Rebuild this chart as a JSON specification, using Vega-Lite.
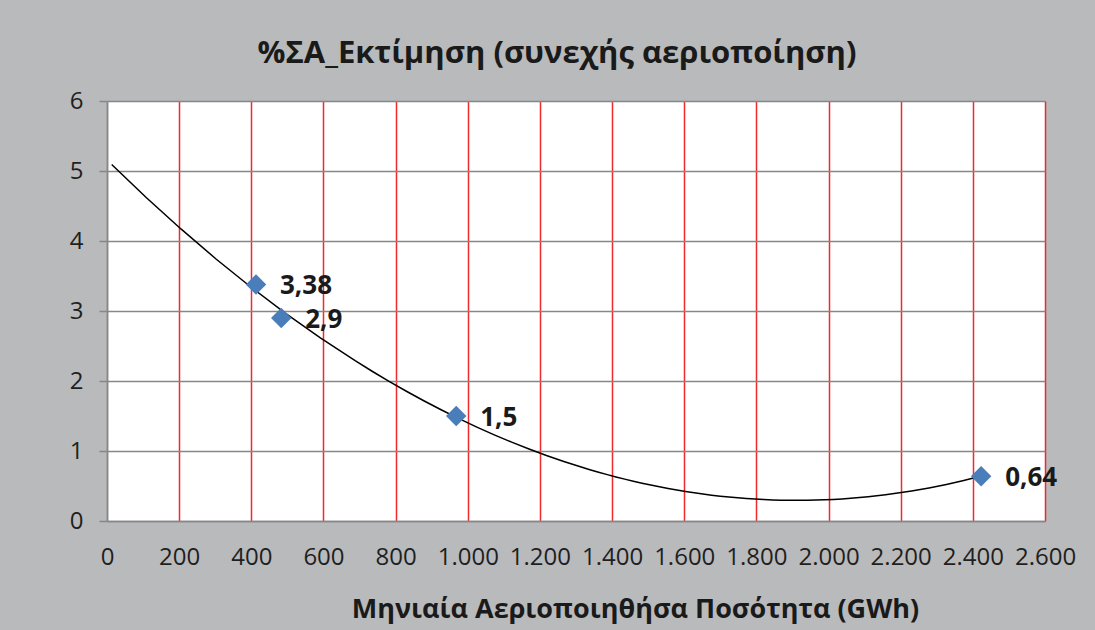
{
  "$schema": "https://vega.github.io/schema/vega-lite/v6.json",
  "width": 938,
  "height": 420,
  "autosize": {"type": "none"},
  "padding": {"left": 107, "top": 101, "right": 50, "bottom": 109},
  "background": "#B9BABC",
  "title": {
    "text": "%ΣΑ_Εκτίμηση (συνεχής αεριοποίηση)",
    "font": "Open Sans",
    "fontSize": 31,
    "fontWeight": "bold",
    "color": "#1A1A1A",
    "anchor": "middle",
    "frame": "group",
    "offset": 19,
    "dx": -19
  },
  "config": {
    "view": {"fill": "white", "stroke": null},
    "locale": {"number": {"decimal": ",", "thousands": ".", "grouping": [3], "currency": ["", " €"]}}
  },
  "data": {
    "values": [
      {"x": 413, "y": 3.38, "label": "3,38"},
      {"x": 483, "y": 2.9, "label": "2,9"},
      {"x": 968, "y": 1.5, "label": "1,5"},
      {"x": 2423, "y": 0.64, "label": "0,64"}
    ]
  },
  "encoding": {
    "x": {
      "field": "x",
      "type": "quantitative",
      "scale": {"domain": [0, 2600], "nice": false, "zero": true},
      "axis": {
        "values": [0, 200, 400, 600, 800, 1000, 1200, 1400, 1600, 1800, 2000, 2200, 2400, 2600],
        "format": ",d",
        "grid": true,
        "gridColor": {"condition": {"test": "datum.value === 0", "value": "#878787"}, "value": "#EE2A2A"},
        "gridWidth": 1.5,
        "gridOpacity": 1,
        "ticks": false,
        "tickSize": 0,
        "domainColor": "#878787",
        "domainWidth": 1.5,
        "labelFont": "Open Sans",
        "labelFontSize": 24,
        "labelColor": "#1F1F1F",
        "labelPadding": 24,
        "labelFlush": false,
        "labelOverlap": false,
        "title": "Μηνιαία Αεριοποιηθήσα Ποσότητα (GWh)",
        "titleFont": "Open Sans",
        "titleFontSize": 27,
        "titleFontWeight": "bold",
        "titleColor": "#1A1A1A",
        "titleX": 528,
        "titleY": 96,
        "titleAlign": "center",
        "titleBaseline": "alphabetic"
      }
    },
    "y": {
      "field": "y",
      "type": "quantitative",
      "scale": {"domain": [0, 6], "nice": false},
      "axis": {
        "values": [0, 1, 2, 3, 4, 5, 6],
        "format": "d",
        "grid": true,
        "gridColor": "#878787",
        "gridWidth": 1.5,
        "gridOpacity": 1,
        "tickSize": 8,
        "tickColor": "#878787",
        "tickWidth": 1.5,
        "domainColor": "#878787",
        "domainWidth": 1.5,
        "labelFont": "Open Sans",
        "labelFontSize": 24,
        "labelColor": "#1F1F1F",
        "labelPadding": 16,
        "title": null
      }
    }
  },
  "layer": [
    {
      "transform": [
        {"regression": "y", "on": "x", "method": "poly", "order": 2, "extent": [13, 2423]}
      ],
      "mark": {"type": "line", "color": "#000000", "strokeWidth": 1.5},
      "encoding": {}
    },
    {
      "mark": {"type": "point", "shape": "diamond", "filled": true, "size": 420, "color": "#4A7EBB", "opacity": 1}
    },
    {
      "mark": {"type": "text", "align": "left", "baseline": "middle", "dx": 24, "dy": 2, "font": "Open Sans", "fontSize": 26, "fontWeight": "bold", "color": "#1A1A1A"},
      "encoding": {"text": {"field": "label"}}
    }
  ]
}
